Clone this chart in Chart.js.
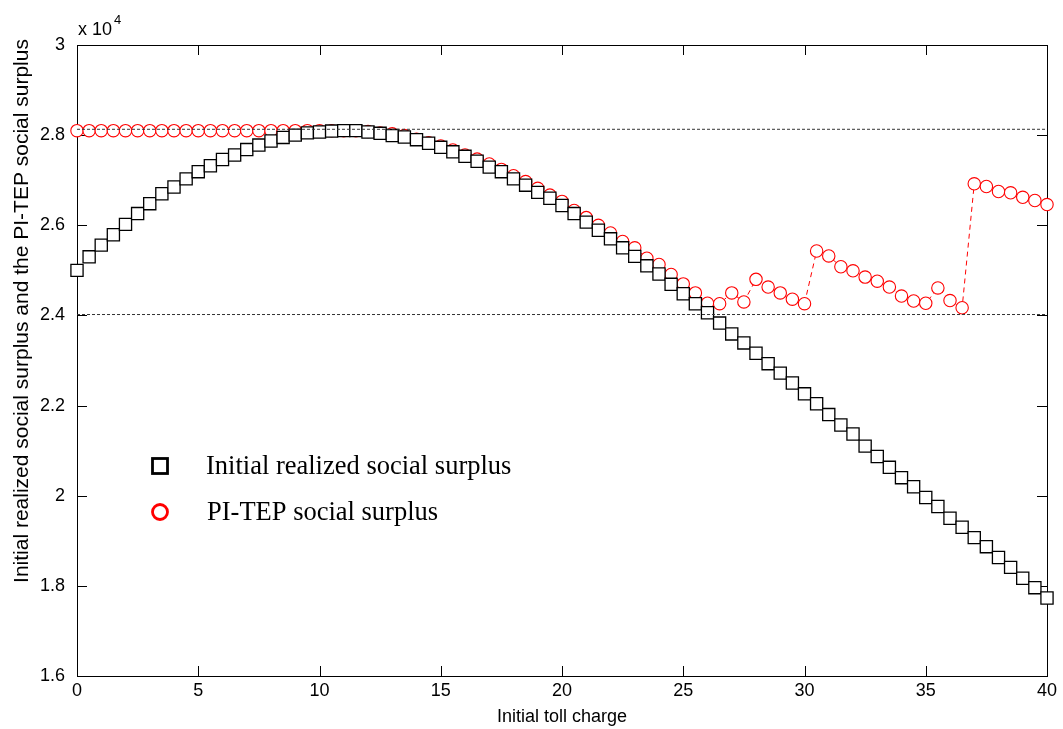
<!DOCTYPE html>
<html>
<head>
<meta charset="utf-8">
<style>
  html, body { margin: 0; padding: 0; background: #fff; }
</style>
</head>
<body>
<canvas id="my-chart" width="1063" height="729"></canvas>

<script src="https://cdn.jsdelivr.net/npm/chart.js"></script>

<script>
  // values are in units of 10^4
  const tollCharge = [
    0, 0.5, 1, 1.5, 2, 2.5, 3, 3.5, 4, 4.5, 5, 5.5, 6, 6.5, 7, 7.5, 8, 8.5, 9, 9.5,
    10, 10.5, 11, 11.5, 12, 12.5, 13, 13.5, 14, 14.5, 15, 15.5, 16, 16.5, 17, 17.5, 18, 18.5, 19, 19.5,
    20, 20.5, 21, 21.5, 22, 22.5, 23, 23.5, 24, 24.5, 25, 25.5, 26, 26.5, 27, 27.5, 28, 28.5, 29, 29.5,
    30, 30.5, 31, 31.5, 32, 32.5, 33, 33.5, 34, 34.5, 35, 35.5, 36, 36.5, 37, 37.5, 38, 38.5, 39, 39.5,
    40
  ]

  const initialSurplus = [
    2.500, 2.530, 2.556, 2.579, 2.602, 2.626, 2.648, 2.670, 2.685, 2.703,
    2.719, 2.732, 2.746, 2.756, 2.768, 2.778, 2.787, 2.795, 2.800, 2.805,
    2.807, 2.809, 2.810, 2.810, 2.807, 2.804, 2.799, 2.796, 2.790, 2.782,
    2.773, 2.763, 2.753, 2.742, 2.729, 2.719, 2.703, 2.689, 2.673, 2.660,
    2.644, 2.626, 2.607, 2.589, 2.570, 2.550, 2.531, 2.510, 2.492, 2.469,
    2.448, 2.426, 2.406, 2.383, 2.359, 2.339, 2.316, 2.293, 2.272, 2.250,
    2.226, 2.204, 2.180, 2.157, 2.137, 2.110, 2.087, 2.063, 2.040, 2.020,
    1.996, 1.976, 1.950, 1.930, 1.907, 1.887, 1.863, 1.841, 1.817, 1.796,
    1.773
  ]

  const piTepSurplus = [
    2.810, 2.810, 2.810, 2.810, 2.810, 2.810, 2.810, 2.810, 2.810, 2.810,
    2.810, 2.810, 2.810, 2.810, 2.810, 2.810, 2.810, 2.810, 2.810, 2.810,
    2.810, 2.810, 2.810, 2.810, 2.808, 2.805, 2.803, 2.799, 2.791, 2.783,
    2.776, 2.767, 2.756, 2.747, 2.736, 2.724, 2.710, 2.697, 2.682, 2.667,
    2.653, 2.633, 2.617, 2.600, 2.583, 2.564, 2.550, 2.527, 2.513, 2.491,
    2.470, 2.450, 2.427, 2.426, 2.450, 2.430, 2.480, 2.463, 2.450, 2.436,
    2.426, 2.543, 2.532, 2.508, 2.499, 2.485, 2.476, 2.463, 2.443, 2.432,
    2.427, 2.461, 2.433, 2.417, 2.692, 2.686, 2.675, 2.672, 2.662, 2.655,
    2.646
  ]

  const refLevels = [2.813, 2.402]
  const xRange = [0, 40]

  const seriesNames = ['Initial realized social surplus', 'PI-TEP social surplus']
  const xTitle = 'Initial toll charge'
  const yTitle = 'Initial realized social surplus and the PI-TEP social surplus'

  const toPoints = (xs, ys) => xs.map((x, i) => ({x: x, y: ys[i]}))

  // matlab style box with inward ticks, legend, y label and exponent label
  const matlabFrame = {
    id: 'matlabFrame',
    beforeDatasetsDraw(chart) {
      const {ctx, chartArea: a, scales: {x, y}} = chart
      ctx.save()
      ctx.strokeStyle = '#000'
      ctx.lineWidth = 1
      ctx.beginPath()
      x.ticks.forEach(t => {
        const px = Math.round(x.getPixelForValue(t.value)) + 0.5
        ctx.moveTo(px, a.bottom); ctx.lineTo(px, a.bottom - 10)
        ctx.moveTo(px, a.top); ctx.lineTo(px, a.top + 10)
      })
      y.ticks.forEach(t => {
        const py = Math.round(y.getPixelForValue(t.value)) + 0.5
        ctx.moveTo(a.left, py); ctx.lineTo(a.left + 10, py)
        ctx.moveTo(a.right, py); ctx.lineTo(a.right - 10, py)
      })
      ctx.stroke()
      ctx.strokeRect(Math.round(a.left) + 0.5, Math.round(a.top) + 0.5,
        Math.round(a.right - a.left), Math.round(a.bottom - a.top))
      ctx.restore()
    },
    afterDraw(chart) {
      const {ctx, chartArea: a} = chart
      ctx.save()
      // x 10^4
      ctx.fillStyle = '#000'
      ctx.textBaseline = 'alphabetic'
      ctx.textAlign = 'left'
      ctx.font = '18px "Liberation Sans", Arial, sans-serif'
      ctx.fillText('x 10', a.left + 1, a.top - 10)
      const w = ctx.measureText('x 10').width
      ctx.font = '13px "Liberation Sans", Arial, sans-serif'
      ctx.fillText('4', a.left + 3 + w, a.top - 21)

      // y label (sits higher than the axis centre in the original)
      ctx.save()
      ctx.translate(22, 311)
      ctx.rotate(-Math.PI / 2)
      ctx.textAlign = 'center'
      ctx.textBaseline = 'middle'
      ctx.font = '21px "Liberation Sans", Arial, sans-serif'
      ctx.fillText(yTitle, 0, 0)
      ctx.restore()

      // legend
      ctx.font = '26.5px "Liberation Serif", "Times New Roman", serif'
      ctx.fillText(seriesNames[0], 206, 474)
      ctx.fillText(seriesNames[1], 207, 520)
      ctx.lineWidth = 2.8
      ctx.strokeStyle = '#000'
      ctx.strokeRect(152.5, 458.5, 15, 15)
      ctx.strokeStyle = '#ff0000'
      ctx.beginPath()
      ctx.arc(160, 512, 7.5, 0, Math.PI * 2)
      ctx.stroke()
      ctx.restore()
    }
  }

  const ctx = document.getElementById('my-chart').getContext('2d')

  const chart = new Chart(ctx, {
    type: 'line',
    data: {
      datasets: [
        {
          label: 'upper level',
          data: toPoints(xRange, [refLevels[0], refLevels[0]]),
          borderColor: '#333',
          borderWidth: 1,
          borderDash: [3, 2],
          pointRadius: 0,
          order: 0,
        },
        {
          label: 'lower level',
          data: toPoints(xRange, [refLevels[1], refLevels[1]]),
          borderColor: '#333',
          borderWidth: 1,
          borderDash: [3, 2],
          pointRadius: 0,
          order: 0,
        },
        {
          label: seriesNames[0],
          data: toPoints(tollCharge, initialSurplus),
          showLine: false,
          pointStyle: 'rect',
          pointRadius: 8.6,
          pointBorderWidth: 1.3,
          pointBorderColor: '#000',
          pointBackgroundColor: '#fff',
          order: 1,
        },
        {
          label: seriesNames[1],
          data: toPoints(tollCharge, piTepSurplus),
          borderColor: '#ff0000',
          borderWidth: 1,
          borderDash: [5, 4],
          pointStyle: 'circle',
          pointRadius: 6.2,
          pointBorderWidth: 1.1,
          pointBorderColor: '#ff0000',
          pointBackgroundColor: '#fff',
          order: 2,
        },
      ]
    },
    options: {
      responsive: false,
      animation: false,
      clip: false,
      layout: {
        padding: {left: 0, right: 16, top: 45, bottom: 0}
      },
      plugins: {
        legend: {display: false},
        tooltip: {enabled: false},
      },
      scales: {
        x: {
          type: 'linear',
          min: 0,
          max: 40,
          ticks: {
            stepSize: 5,
            padding: 4,
            color: '#000',
            font: {family: '"Liberation Sans", Arial, sans-serif', size: 18},
            maxRotation: 0,
          },
          grid: {display: false, drawTicks: false},
          border: {display: false},
          title: {
            display: true,
            text: xTitle,
            color: '#000',
            font: {family: '"Liberation Sans", Arial, sans-serif', size: 18},
            padding: {top: 0, bottom: 1},
          },
          afterFit: s => { s.height = 53 },
        },
        y: {
          min: 1.6,
          max: 3,
          ticks: {
            stepSize: 0.2,
            padding: 12,
            color: '#000',
            font: {family: '"Liberation Sans", Arial, sans-serif', size: 18},
            callback: v => String(+v.toFixed(1)),
          },
          grid: {display: false, drawTicks: false},
          border: {display: false},
          afterFit: s => { s.width = 77 },
        }
      }
    },
    plugins: [matlabFrame]
  });
</script>
</body>
</html>
